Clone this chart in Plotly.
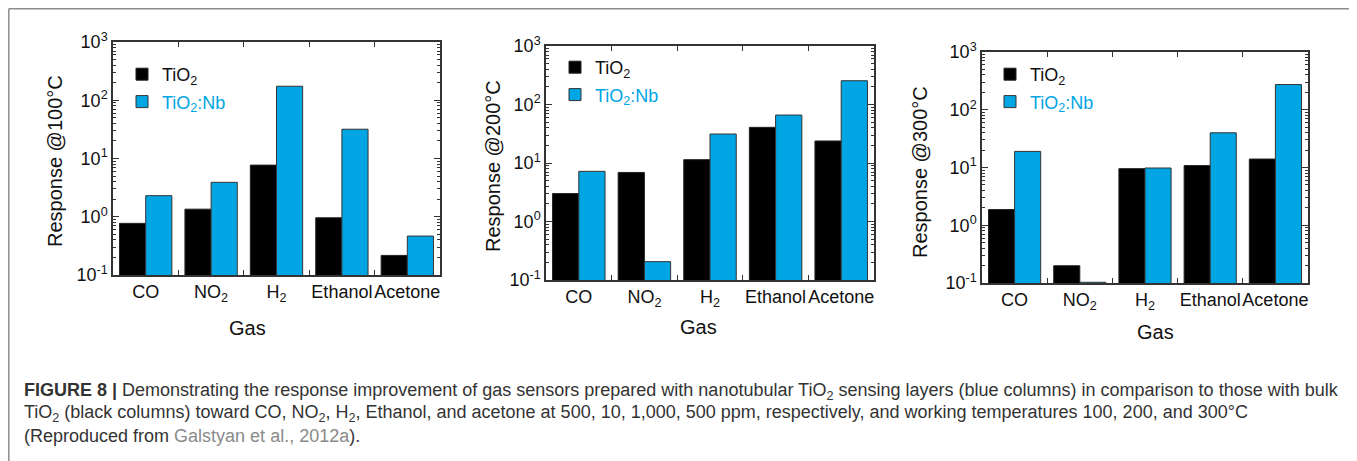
import plotly.graph_objects as go

# The page body adds an 8px margin, so the figure is drawn 8px in from the top-left.
OX, OY = 8, 8
W, H = 1357 - OX, 461 - OY

gases = ["CO", "NO2", "H2", "Ethanol", "Acetone"]
gas_labels = ["CO", "NO<sub>2</sub>", "H<sub>2</sub>", "Ethanol", "Acetone"]

tio2_100 = [0.77, 1.35, 7.7, 0.96, 0.217]
tio2nb_100 = [2.3, 3.9, 174, 31.8, 0.466]
tio2_200 = [3.0, 6.9, 11.4, 40.7, 23.8]
tio2nb_200 = [7.2, 0.206, 31.3, 66, 255]
tio2_300 = [1.87, 0.199, 9.55, 10.8, 14.0]
tio2nb_300 = [19.0, 0.103, 9.8, 39.9, 273]

temps = ["100", "200", "300"]
ytick_vals = [0.1, 1, 10, 100, 1000]
ytick_text = ["10<sup>-1</sup>", "10<sup>0</sup>", "10<sup>1</sup>", "10<sup>2</sup>", "10<sup>3</sup>"]
minor_vals = [m * d for d in [0.1, 1, 10, 100] for m in range(2, 10)]

BLACK = "#000000"
BLUE = "#00a6e4"
FONT = "Liberation Sans, Arial, sans-serif"


def px(x):
    return (x - OX) / W


def py(y):
    return 1 - (y - OY) / H


# plot areas in page pixels: (x0, x1, ytop, ybottom)
areas = [(113, 440, 42, 275), (546, 874, 46, 280), (982, 1308, 52, 283)]
legend_pos = [(142, 70), (575, 63), (1010, 70)]
ytitle_pos = [(55, 161), (493, 166), (920, 172)]
xtitle_pos = [(247, 328), (698, 327), (1155, 332)]

series = [(tio2_100, tio2nb_100), (tio2_200, tio2nb_200), (tio2_300, tio2nb_300)]

fig = go.Figure()
for i, (a, b) in enumerate(series):
    sfx = "" if i == 0 else str(i + 1)
    lg = "legend" if i == 0 else "legend" + str(i + 1)
    fig.add_trace(go.Bar(x=gases, y=a, name="TiO<sub>2</sub>", legendgroup="a%d" % i,
                         marker=dict(color=BLACK, line=dict(color="#222", width=1)),
                         xaxis="x" + sfx, yaxis="y" + sfx, legend=lg, showlegend=True))
    fig.add_trace(go.Bar(x=gases, y=b, legendgroup="b%d" % i,
                         name="<span style='color:%s'>TiO<sub>2</sub>:Nb</span>" % BLUE,
                         marker=dict(color=BLUE, line=dict(color="#333", width=1)),
                         xaxis="x" + sfx, yaxis="y" + sfx, legend=lg, showlegend=True))

layout = dict(
    template="none",
    width=W, height=H,
    margin=dict(l=0, r=0, t=0, b=0, autoexpand=False),
    paper_bgcolor="white", plot_bgcolor="white",
    barmode="group", bargap=0.2, bargroupgap=0.0,
    font=dict(family=FONT, color="#111"),
    shapes=[
        dict(type="line", xref="paper", yref="paper", x0=px(8.8), x1=px(1355), y0=py(8.8), y1=py(8.8),
             line=dict(color="#8c8c8c", width=1.5)),
        dict(type="line", xref="paper", yref="paper", x0=px(8.8), x1=px(8.8), y0=py(8.8), y1=0,
             line=dict(color="#8c8c8c", width=1.5)),
        dict(type="line", xref="paper", yref="paper", x0=px(1355), x1=px(1355), y0=py(8.8), y1=0,
             line=dict(color="#8c8c8c", width=1.5)),
    ],
    annotations=[],
)

for i, (x0, x1, yt, yb) in enumerate(areas):
    sfx = "" if i == 0 else str(i + 1)
    xa = dict(
        domain=[px(x0), px(x1)], anchor="y" + sfx, type="category", automargin=False,
        categoryorder="array", categoryarray=gases,
        tickvals=gases, ticktext=gas_labels, tickangle=0,
        tickson="boundaries", ticks="inside", ticklen=5, tickwidth=1.2, tickcolor="#333",
        showline=True, linecolor="#333", linewidth=1.5, mirror="ticks",
        showgrid=False, zeroline=False,
        tickfont=dict(size=18, color="#111", family=FONT),
    )
    ya = dict(
        domain=[py(yb), py(yt)], anchor="x" + sfx, type="log", range=[-1, 3], automargin=False,
        tickvals=ytick_vals, ticktext=ytick_text,
        ticks="inside", ticklen=6, tickwidth=1.2, tickcolor="#333",
        minor=dict(tickvals=minor_vals, ticks="inside", ticklen=3, tickcolor="#333", tickwidth=1),
        showline=True, linecolor="#333", linewidth=1.5, mirror="ticks",
        showgrid=False, zeroline=False,
        tickfont=dict(size=18, color="#111", family=FONT),
    )
    layout["xaxis" + sfx] = xa
    layout["yaxis" + sfx] = ya
    lx, ly = legend_pos[i]
    layout["legend" if i == 0 else "legend" + str(i + 1)] = dict(
        x=px(lx - 20), y=py(ly - 14), xanchor="left", yanchor="top",
        xref="paper", yref="paper", bgcolor="rgba(0,0,0,0)", borderwidth=0,
        font=dict(size=18, color="#111", family=FONT), tracegroupgap=1,
    )
    tx, ty = ytitle_pos[i]
    layout["annotations"].append(dict(
        text="Response @%s°C" % temps[i], xref="paper", yref="paper", x=px(tx), y=py(ty),
        xanchor="center", yanchor="middle", showarrow=False, textangle=-90,
        font=dict(size=20, color="#111", family=FONT),
    ))
    gx, gy = xtitle_pos[i]
    layout["annotations"].append(dict(
        text="Gas", xref="paper", yref="paper", x=px(gx), y=py(gy),
        xanchor="center", yanchor="middle", showarrow=False,
        font=dict(size=20, color="#111", family=FONT),
    ))

caption_lines = [
    "<b>FIGURE 8 |</b> Demonstrating the response improvement of gas sensors prepared with nanotubular TiO<sub>2</sub> sensing layers (blue columns) in comparison to those with bulk",
    "TiO<sub>2</sub> (black columns) toward CO, NO<sub>2</sub>, H<sub>2</sub>, Ethanol, and acetone at 500, 10, 1,000, 500 ppm, respectively, and working temperatures 100, 200, and 300°C",
    "(Reproduced from <span style='color:#8a8a8a'>Galstyan et al., 2012a</span>).",
]
caption_y = [391, 413, 436]
for t, yy in zip(caption_lines, caption_y):
    layout["annotations"].append(dict(
        text=t, xref="paper", yref="paper", x=px(22), y=py(yy),
        xanchor="left", yanchor="middle", showarrow=False, align="left",
        font=dict(size=18, color="#333", family=FONT),
    ))

fig.update_layout(**layout)
fig.write_html("out.html")
